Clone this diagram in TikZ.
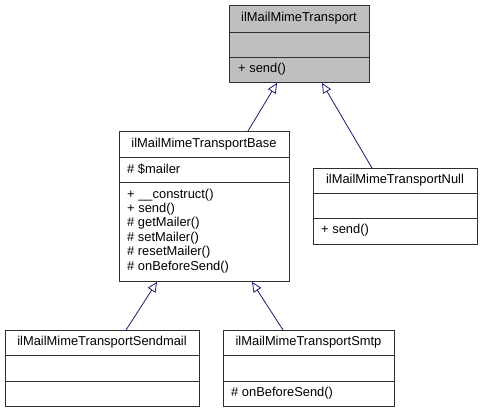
\documentclass[tikz,border=0pt]{standalone}
\usepackage{fontspec}
\setmainfont{Liberation Sans}
\usetikzlibrary{arrows.meta}
\definecolor{edgeblue}{HTML}{191970}
\definecolor{topgray}{HTML}{BFBFBF}
\definecolor{boxline}{HTML}{303030}
\tikzset{
  classbox/.style={draw=boxline, line width=0.9pt, rectangle, inner sep=0pt, anchor=north west},
  divider/.style={draw=boxline, line width=0.9pt},
  title/.style={inner sep=0pt, anchor=center, font=\fontsize{12.9}{14.4}\selectfont},
  member/.style={inner sep=0pt, anchor=west, align=left, font=\fontsize{12.9}{14.4}\selectfont},
  inherit/.style={draw=edgeblue, line width=0.8pt, -{Triangle[open, length=10pt, width=9pt]}}
}
\begin{document}
\begin{tikzpicture}[x=1pt, y=-1pt]
\useasboundingbox (0,0) rectangle (482,412);
% top class
\node[classbox, fill=topgray, minimum width=140pt, minimum height=77pt] (top) at (229,5) {};
\draw[divider] (229,32) -- (369,32) (229,57) -- (369,57);
\node[title] (topt) at (299,18.5) {ilMailMimeTransport};
\node[member] (topm) at (238,69.5) {+ send()};
% base class
\node[classbox, fill=white, minimum width=170pt, minimum height=150pt] (base) at (119,131) {};
\draw[divider] (119,157) -- (289,157) (119,182) -- (289,182);
\node[title] (baset) at (204,144) {ilMailMimeTransportBase};
\node[member] (basea) at (127,169.5) {\# \$mailer};
\node[member, anchor=base west] (basem) at (127,270) {+ \_\_construct()\\+ send()\\\# getMailer()\\\# setMailer()\\\# resetMailer()\\\# onBeforeSend()};
% null class
\node[classbox, fill=white, minimum width=164pt, minimum height=76pt] (null) at (313,168) {};
\draw[divider] (313,193) -- (477,193) (313,218) -- (477,218);
\node[title] (nullt) at (395,180.5) {ilMailMimeTransportNull};
\node[member] (nullm) at (321,230.5) {+ send()};
% sendmail class
\node[classbox, fill=white, minimum width=194pt, minimum height=76pt] (sendmail) at (5,330) {};
\draw[divider] (5,355) -- (199,355) (5,381) -- (199,381);
\node[title] (sendmailt) at (102,342.5) {ilMailMimeTransportSendmail};
% smtp class
\node[classbox, fill=white, minimum width=171pt, minimum height=76pt] (smtp) at (223,330) {};
\draw[divider] (223,355) -- (394,355) (223,381) -- (394,381);
\node[title] (smtpt) at (308.5,342.5) {ilMailMimeTransportSmtp};
\node[member] (smtpm) at (231,393.5) {\# onBeforeSend()};
% connectors
\coordinate (b1) at (base.north west -| 248,0);
\coordinate (t1) at (top.south west -| 277,0);
\coordinate (n1) at (null.north west -| 372,0);
\coordinate (t2) at (top.south west -| 322,0);
\coordinate (s1) at (sendmail.north west -| 126,0);
\coordinate (bb1) at (base.south west -| 157,0);
\coordinate (m1) at (smtp.north west -| 283,0);
\coordinate (bb2) at (base.south west -| 252,0);
\draw[inherit] (b1) -- (t1);
\draw[inherit] (n1) -- (t2);
\draw[inherit] (s1) -- (bb1);
\draw[inherit] (m1) -- (bb2);
\end{tikzpicture}
\end{document}
